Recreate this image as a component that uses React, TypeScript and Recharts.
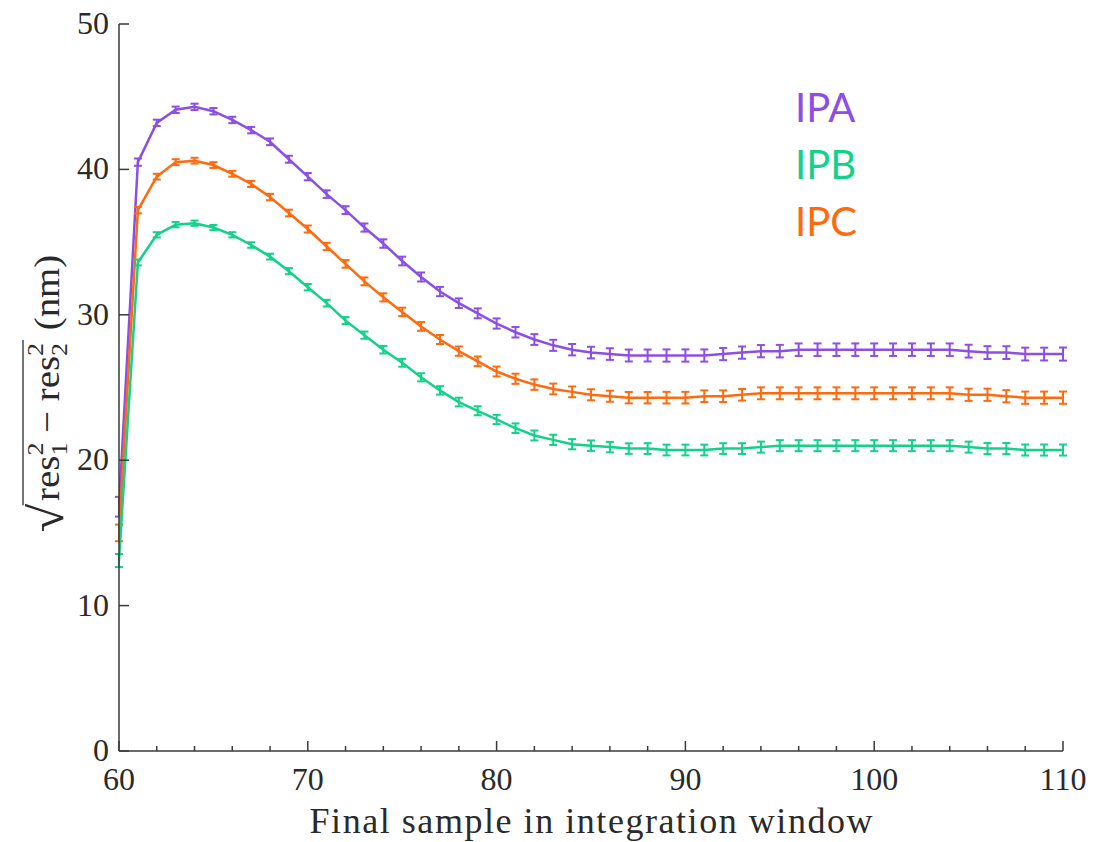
import React from 'react';
import { LineChart, Line, XAxis, YAxis, ErrorBar, Customized } from 'recharts';

const samples = [60,61,62,63,64,65,66,67,68,69,70,71,72,73,74,75,76,77,78,79,80,81,82,83,84,85,86,87,88,89,90,91,92,93,94,95,96,97,98,99,100,101,102,103,104,105,106,107,108,109,110];

const ipa = [16.8,40.5,43.2,44.1,44.3,44.0,43.4,42.7,41.9,40.7,39.5,38.3,37.2,36.0,34.9,33.7,32.6,31.6,30.8,30.1,29.4,28.8,28.3,27.9,27.6,27.4,27.3,27.2,27.2,27.2,27.2,27.2,27.3,27.4,27.5,27.5,27.6,27.6,27.6,27.6,27.6,27.6,27.6,27.6,27.6,27.5,27.4,27.4,27.3,27.3,27.3];
const ipb = [13.1,33.6,35.5,36.2,36.3,36.0,35.5,34.8,34.0,33.0,31.9,30.8,29.6,28.6,27.6,26.7,25.7,24.8,24.0,23.4,22.8,22.2,21.7,21.4,21.1,21.0,20.9,20.8,20.8,20.7,20.7,20.7,20.8,20.8,20.9,21.0,21.0,21.0,21.0,21.0,21.0,21.0,21.0,21.0,21.0,20.9,20.8,20.8,20.7,20.7,20.7];
const ipc = [15.0,37.2,39.5,40.5,40.6,40.3,39.7,39.0,38.1,37.0,35.9,34.7,33.5,32.3,31.2,30.2,29.2,28.3,27.5,26.8,26.1,25.6,25.2,24.9,24.7,24.5,24.4,24.3,24.3,24.3,24.3,24.4,24.4,24.5,24.6,24.6,24.6,24.6,24.6,24.6,24.6,24.6,24.6,24.6,24.6,24.5,24.5,24.4,24.3,24.3,24.3];

const ipaErr = [0.68,0.25,0.22,0.22,0.22,0.22,0.22,0.22,0.23,0.24,0.25,0.26,0.27,0.28,0.29,0.3,0.31,0.32,0.33,0.34,0.35,0.36,0.37,0.38,0.39,0.4,0.4,0.41,0.41,0.42,0.42,0.42,0.42,0.42,0.42,0.43,0.43,0.43,0.43,0.43,0.43,0.43,0.43,0.43,0.43,0.44,0.44,0.44,0.44,0.44,0.45];
const ipbErr = [0.45,0.2,0.18,0.18,0.18,0.18,0.18,0.19,0.2,0.21,0.22,0.23,0.24,0.25,0.26,0.27,0.28,0.29,0.3,0.31,0.32,0.33,0.34,0.35,0.35,0.36,0.36,0.36,0.37,0.37,0.37,0.37,0.37,0.37,0.38,0.38,0.38,0.38,0.38,0.38,0.38,0.38,0.38,0.38,0.38,0.38,0.38,0.38,0.38,0.38,0.38];
const ipcErr = [0.57,0.22,0.2,0.2,0.2,0.2,0.2,0.21,0.22,0.23,0.24,0.25,0.26,0.27,0.28,0.29,0.3,0.31,0.32,0.33,0.34,0.35,0.36,0.37,0.37,0.38,0.38,0.39,0.39,0.4,0.4,0.4,0.4,0.4,0.41,0.41,0.41,0.41,0.41,0.41,0.41,0.41,0.41,0.41,0.41,0.42,0.42,0.42,0.42,0.42,0.42];

const xTicks = [60,62,64,66,68,70,72,74,76,78,80,82,84,86,88,90,92,94,96,98,100,102,104,106,108,110];
const yTicks = [0,10,20,30,40,50];

const seriesNames = ['IPA', 'IPB', 'IPC'];
const colors = ['#8C4FE6', '#12D28A', '#FF6A0E'];
const xTitle = 'Final sample in integration window';

const data = samples.map((s, i) => ({
  x: s,
  ipa: ipa[i], ipaErr: ipaErr[i],
  ipb: ipb[i], ipbErr: ipbErr[i],
  ipc: ipc[i], ipcErr: ipcErr[i],
}));

const SERIF = '"Liberation Serif", "DejaVu Serif", serif';
const AXIS = '#3a3a3a';
const INK = '#2a2a2a';

const XTick = (props: any) => {
  const { x, y, payload } = props;
  const major = payload.value % 10 === 0;
  return (
    <g>
      <line x1={x} y1={y} x2={x} y2={y - (major ? 10 : 5)} stroke={AXIS} strokeWidth={1.5} />
      {major && (
        <text x={x} y={y + 39} textAnchor="middle" fontFamily={SERIF} fontSize={32} fill={INK}>
          {payload.value}
        </text>
      )}
    </g>
  );
};

const YTick = (props: any) => {
  const { x, y, payload } = props;
  return (
    <g>
      <line x1={x} y1={y} x2={x + 10} y2={y} stroke={AXIS} strokeWidth={1.5} />
      <text x={x - 10} y={y + 10} textAnchor="end" fontFamily={SERIF} fontSize={32} fill={INK}>
        {payload.value}
      </text>
    </g>
  );
};

const YLabel = () => (
  <g transform="translate(46 394) rotate(-90) scale(1.08 1) translate(-128 13)">
    <text x={0} y={4} fontFamily={SERIF} fontSize={48} fill={INK}>√</text>
    <line x1={25} y1={-36} x2={178} y2={-36} stroke={INK} strokeWidth={1.3} />
    <text x={29} y={0} fontFamily={SERIF} fontSize={36} fill={INK}>
      res
      <tspan fontSize={24} dy={8}>1</tspan>
      <tspan fontSize={24} dx={-12} dy={-24}>2</tspan>
      <tspan dy={16}>{' − res'}</tspan>
      <tspan fontSize={24} dy={8}>2</tspan>
      <tspan fontSize={24} dx={-12} dy={-24}>2</tspan>
    </text>
    <text x={187} y={0} fontFamily={SERIF} fontSize={36} fill={INK}>(nm)</text>
  </g>
);

const XTitle = () => (
  <text
    x={591}
    y={833}
    textAnchor="middle"
    fontFamily={SERIF}
    fontSize={36}
    fill={INK}
    textLength={563}
    lengthAdjust="spacing"
  >
    {xTitle}
  </text>
);

const SeriesLabels = () => (
  <g>
    {seriesNames.map((n, i) => (
      <text key={n} x={795} y={122 + i * 57} fontFamily='Lato, "Open Sans", sans-serif' fontSize={40} fill={colors[i]}>
        {n}
      </text>
    ))}
  </g>
);

export default function App() {
  return (
    <div style={{ position: 'absolute', left: 0, top: 0, background: '#fff' }}>
      <LineChart
        width={1113}
        height={842}
        data={data}
        margin={{ top: 24, right: 50, bottom: 11, left: 39 }}
      >
        <XAxis
          dataKey="x"
          type="number"
          domain={[60, 110]}
          ticks={xTicks}
          interval={0}
          tickSize={0}
          tickMargin={0}
          tick={<XTick />}
          height={80}
          axisLine={{ stroke: AXIS, strokeWidth: 1.5 }}
          allowDataOverflow
        />
        <YAxis
          type="number"
          domain={[0, 50]}
          ticks={yTicks}
          interval={0}
          tickSize={0}
          tickMargin={0}
          tick={<YTick />}
          width={80}
          axisLine={{ stroke: AXIS, strokeWidth: 1.5 }}
          allowDataOverflow
        />
        <Line type="linear" dataKey="ipa" name="IPA" stroke={colors[0]} strokeWidth={2.5} dot={false} isAnimationActive={false}>
          <ErrorBar dataKey="ipaErr" direction="y" width={4} stroke={colors[0]} strokeWidth={2} isAnimationActive={false} />
        </Line>
        <Line type="linear" dataKey="ipc" name="IPC" stroke={colors[2]} strokeWidth={2.5} dot={false} isAnimationActive={false}>
          <ErrorBar dataKey="ipcErr" direction="y" width={4} stroke={colors[2]} strokeWidth={2} isAnimationActive={false} />
        </Line>
        <Line type="linear" dataKey="ipb" name="IPB" stroke={colors[1]} strokeWidth={2.5} dot={false} isAnimationActive={false}>
          <ErrorBar dataKey="ipbErr" direction="y" width={4} stroke={colors[1]} strokeWidth={2} isAnimationActive={false} />
        </Line>
        <Customized component={<YLabel />} />
        <Customized component={<XTitle />} />
        <Customized component={<SeriesLabels />} />
      </LineChart>
    </div>
  );
}
